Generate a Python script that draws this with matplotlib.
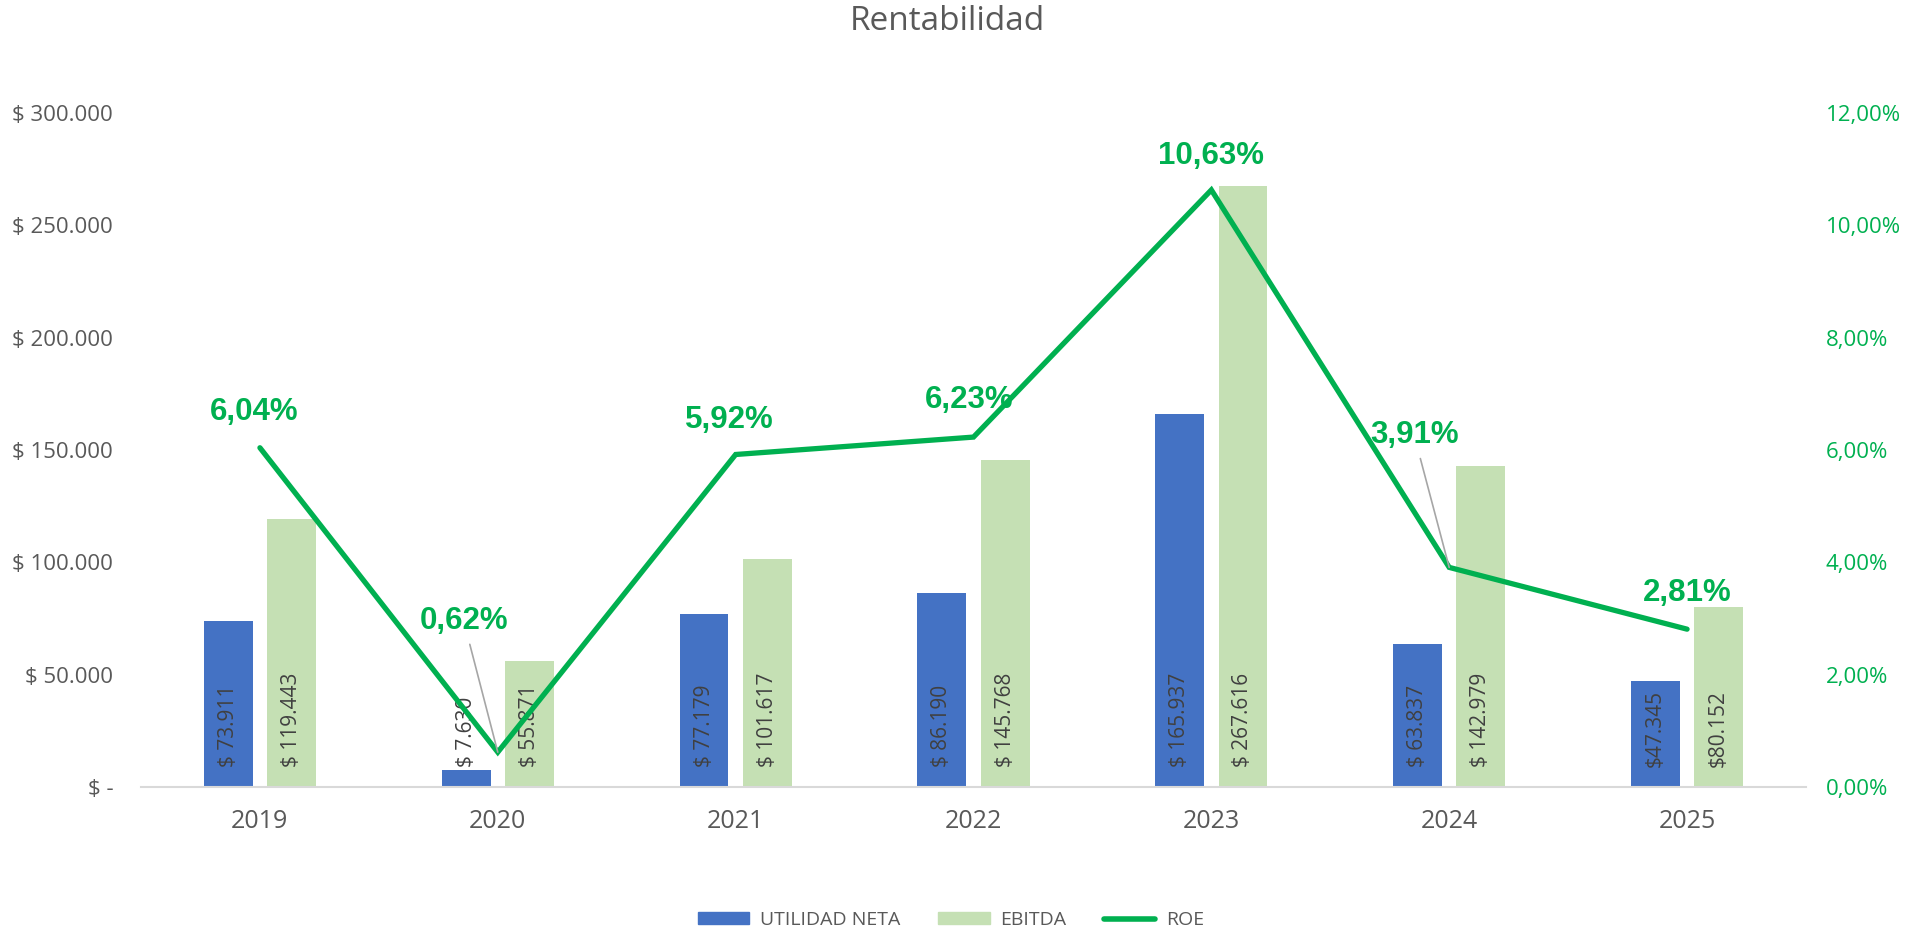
import matplotlib
matplotlib.use("Agg")
import matplotlib.pyplot as plt
import numpy as np
from matplotlib.patches import Patch
from matplotlib.lines import Line2D

years = ["2019", "2020", "2021", "2022", "2023", "2024", "2025"]
utilidad_neta = [73911, 7630, 77179, 86190, 165937, 63837, 47345]
ebitda = [119443, 55871, 101617, 145768, 267616, 142979, 80152]
roe = [6.04, 0.62, 5.92, 6.23, 10.63, 3.91, 2.81]
un_labels = ["$ 73.911", "$ 7.630", "$ 77.179", "$ 86.190", "$ 165.937", "$ 63.837", "$47.345"]
eb_labels = ["$ 119.443", "$ 55.871", "$ 101.617", "$ 145.768", "$ 267.616", "$ 142.979", "$80.152"]
roe_labels = ["6,04%", "0,62%", "5,92%", "6,23%", "10,63%", "3,91%", "2,81%"]
left_ticks = [0, 50000, 100000, 150000, 200000, 250000, 300000]
left_tick_labels = ["$ -", "$ 50.000", "$ 100.000", "$ 150.000", "$ 200.000", "$ 250.000", "$ 300.000"]
right_ticks = [0, 2, 4, 6, 8, 10, 12]
right_tick_labels = ["0,00%", "2,00%", "4,00%", "6,00%", "8,00%", "10,00%", "12,00%"]

BLUE = "#4472C4"
LGREEN = "#C5E0B4"
GREEN = "#00B050"
GRAY = "#595959"

plt.rcParams['font.family'] = ['Open Sans', 'DejaVu Sans']

fig = plt.figure(figsize=(19.13, 9.31), dpi=100)
ax = fig.add_axes([141/1913, 1-787/931, (1806-141)/1913, (787-113)/931])
ax2 = ax.twinx()

x = np.arange(len(years))
w = 0.205
off = 0.133
ax.bar(x - off, utilidad_neta, w, color=BLUE, zorder=2)
ax.bar(x + off, ebitda, w, color=LGREEN, zorder=2)

for xi, lab in zip(x - off, un_labels):
    ax.annotate(lab, xy=(xi, 0), xytext=(0, 20), textcoords='offset pixels',
                rotation=90, ha='center', va='bottom', fontsize=15, color="#404040", zorder=3)
for xi, lab in zip(x + off, eb_labels):
    ax.annotate(lab, xy=(xi, 0), xytext=(0, 20), textcoords='offset pixels',
                rotation=90, ha='center', va='bottom', fontsize=15, color="#404040", zorder=3)

ax.set_xlim(-0.5, len(years) - 0.5)
ax.set_ylim(0, 300000)
ax.set_yticks(left_ticks)
ax.set_yticklabels(left_tick_labels)
ax.set_xticks(x)
ax.set_xticklabels(years)
ax.tick_params(axis='y', length=0, pad=20, labelsize=16, labelcolor=GRAY)
ax.tick_params(axis='x', length=0, pad=16, labelsize=18, labelcolor=GRAY)
for s in ['top', 'left', 'right']:
    ax.spines[s].set_visible(False)
ax.spines['bottom'].set_color('#D9D9D9')
ax.spines['bottom'].set_linewidth(1.5)

ax2.plot(x, roe, color=GREEN, lw=3.8, solid_capstyle='round', solid_joinstyle='miter', zorder=4)
ax2.set_ylim(0, 12)
ax2.set_yticks(right_ticks)
ax2.set_yticklabels(right_tick_labels)
ax2.tick_params(axis='y', length=0, pad=14, labelsize=16, labelcolor=GREEN)
for s in ['top', 'left', 'right', 'bottom']:
    ax2.spines[s].set_visible(False)

offsets = [(-6, 36), (-34, 131), (-6, 34), (-4, 37), (0, 34), (-35, 132), (0, 36)]
leaders = [False, True, False, False, False, True, False]
for xi, v, lab, o, ld in zip(x, roe, roe_labels, offsets, leaders):
    kw = {}
    if ld:
        kw['arrowprops'] = dict(arrowstyle='-', color='#A6A6A6', lw=1.2, shrinkA=4, shrinkB=0)
    ax2.annotate(lab, xy=(xi, v), xytext=o, textcoords='offset pixels',
                 ha='center', va='center', fontsize=22.5, fontweight='bold',
                 color=GREEN, family=['Liberation Sans', 'DejaVu Sans'], zorder=5, **kw)

fig.text(947/1913, 1 - 22/931, "Rentabilidad", ha='center', va='center', fontsize=24, color=GRAY)

handles = [Patch(color=BLUE), Patch(color=LGREEN), Line2D([0], [0], color=GREEN, lw=4, solid_capstyle='round')]
fig.legend(handles, ["UTILIDAD NETA", "EBITDA", "ROE"], loc='center', ncol=3,
           bbox_to_anchor=(951/1913, 1 - 920/931), frameon=False, fontsize=14,
           labelcolor=GRAY, handlelength=2.67, handleheight=0.55, columnspacing=1.9, handletextpad=0.56)

fig.savefig("out.png", dpi=100)
